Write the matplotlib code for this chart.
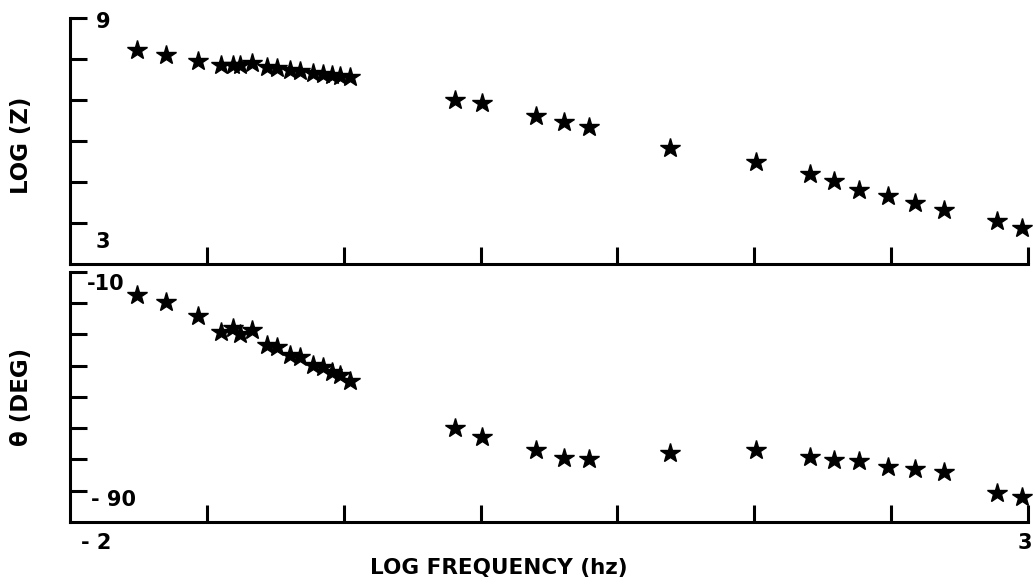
import matplotlib
matplotlib.use("Agg")
import matplotlib.pyplot as plt
import numpy as np

# log frequency (hz), low-frequency sweep and high-frequency sweep
log_freq = [-1.65, -1.50, -1.33, -1.21, -1.15, -1.11, -1.05, -0.97, -0.92,
            -0.85, -0.80, -0.73, -0.68, -0.63, -0.59, -0.54,
            0.01, 0.15, 0.43, 0.58, 0.71, 1.13, 1.58, 1.86, 1.99,
            2.12, 2.27, 2.41, 2.56, 2.84, 2.97]

# log impedance
log_z = [8.22, 8.10, 7.95, 7.85, 7.85, 7.85, 7.90, 7.80, 7.78,
         7.73, 7.71, 7.66, 7.63, 7.61, 7.59, 7.56,
         7.00, 6.93, 6.61, 6.46, 6.34, 5.83, 5.49, 5.20, 5.02,
         4.80, 4.66, 4.49, 4.32, 4.05, 3.88]

# phase angle (deg)
theta = [-17.4, -19.6, -24.1, -29.2, -27.9, -29.8, -28.6, -33.4, -34.0,
         -36.6, -37.2, -39.8, -40.4, -42.0, -43.0, -44.9,
         -59.9, -62.8, -67.0, -69.5, -69.8, -67.9, -67.0, -69.2, -70.2,
         -70.5, -72.4, -73.0, -74.0, -80.7, -82.0]

X_MIN, X_MAX = -2, 3
x_ticks = np.linspace(X_MIN, X_MAX, 8)[1:]

FONT = dict(family="DejaVu Sans", fontweight="heavy", color="black")
STAR = dict(ls="none", marker="*", ms=15, mew=1.0, color="black",
            clip_on=False)

fig = plt.figure(figsize=(10.35, 5.85), dpi=100)
ax1 = fig.add_axes([0.0676, 0.5487, 0.9256, 0.4205])
ax2 = fig.add_axes([0.0676, 0.1077, 0.9256, 0.4274])

for ax in (ax1, ax2):
    ax.spines["top"].set_visible(False)
    ax.spines["right"].set_visible(False)
    for side in ("left", "bottom"):
        ax.spines[side].set_linewidth(2.2)
    ax.set_xlim(X_MIN, X_MAX)
    ax.set_xticks(x_ticks)
    ax.tick_params(direction="in", length=12, width=2.2,
                   labelbottom=False, labelleft=False)

# top: log(Z)
ax1.plot(log_freq, log_z, **STAR)
ax1.set_ylim(3, 9)
ax1.set_yticks([4, 5, 6, 7, 8, 9])
ax1.text(-1.865, 8.91, "9", ha="left", va="center", fontsize=15, **FONT)
ax1.text(-1.865, 3.54, "3", ha="left", va="center", fontsize=15, **FONT)

# bottom: phase
ax2.plot(log_freq, theta, **STAR)
ax2.set_ylim(-90, -10)
ax2.set_yticks([-80, -70, -60, -50, -40, -30, -20, -10])
ax2.text(-1.91, -13.8, "-10", ha="left", va="center", fontsize=15, **FONT)
ax2.text(-1.89, -83.0, "- 90", ha="left", va="center", fontsize=15, **FONT)
ax2.text(-1.945, -96.7, "- 2", ha="left", va="center", fontsize=15,
         clip_on=False, **FONT)
ax2.text(2.985, -96.7, "3", ha="center", va="center", fontsize=15,
         clip_on=False, **FONT)

fig.text(22 / 1035, 1 - 145 / 585, "LOG (Z)", rotation=90, ha="center",
         va="center", fontsize=16.5, **FONT)
fig.text(22 / 1035, 1 - 397 / 585, "θ (DEG)", rotation=90, ha="center",
         va="center", fontsize=16.5, **FONT)
fig.text(499 / 1035, 1 - 568 / 585, "LOG FREQUENCY (hz)", ha="center",
         va="center", fontsize=15.5, **FONT)

fig.savefig("out.png", dpi=100, facecolor="white")
